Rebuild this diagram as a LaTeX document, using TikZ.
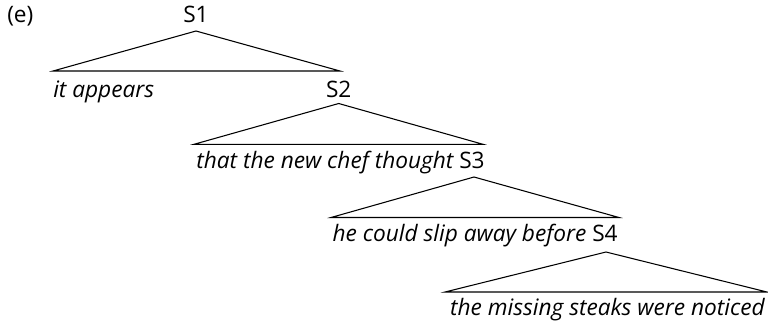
\documentclass[tikz,border=0pt]{standalone}
\usepackage{fontspec}
\setmainfont{Open Sans}
\begin{document}
\begin{tikzpicture}[x=0.75pt,y=-0.75pt,
  txt/.style={inner sep=0pt,font=\fontsize{17}{20}\selectfont\itshape},
  cat/.style={inner sep=0pt,font=\fontsize{17}{20}\selectfont},
  tri/.style={line width=0.8pt,line join=miter}]
\useasboundingbox (0,0) rectangle (768,326);
\node[cat,anchor=base west] (e) at (7,22) {(e)};
% level 1
\node[cat,anchor=base] (s1) at (196,22) {S1};
\coordinate (a1) at (196,31);
\coordinate (l1) at (53,71);
\coordinate (r1) at (340,71);
\draw[tri] (a1) -- (l1) -- (r1) -- cycle;
\node[txt,anchor=base west] (t1) at (53,97.7) {it appears};
\node[cat,anchor=base] (s2) at (338.7,97.7) {S2};
% level 2
\coordinate (a2) at (338.7,103.5);
\coordinate (l2) at (194,144.3);
\coordinate (r2) at (483,144.3);
\draw[tri] (a2) -- (l2) -- (r2) -- cycle;
\node[cat,anchor=base] (s3) at (472,168) {S3};
\node[txt,anchor=base east] (t2) at ([xshift=-4pt]s3.base west) {that the new chef thought};
% level 3
\coordinate (a3) at (474,177);
\coordinate (l3) at (331,217.5);
\coordinate (r3) at (619,217.5);
\draw[tri] (a3) -- (l3) -- (r3) -- cycle;
\node[cat,anchor=base] (s4) at (605,241) {S4};
\node[txt,anchor=base east] (t3) at ([xshift=-4pt]s4.base west) {he could slip away before};
% level 4
\coordinate (a4) at (606,252);
\coordinate (l4) at (445,292);
\coordinate (r4) at (767,292);
\draw[tri] (a4) -- (l4) -- (r4) -- cycle;
\node[txt,anchor=base east] (t4) at (765,315) {the missing steaks were noticed};
\end{tikzpicture}
\end{document}
